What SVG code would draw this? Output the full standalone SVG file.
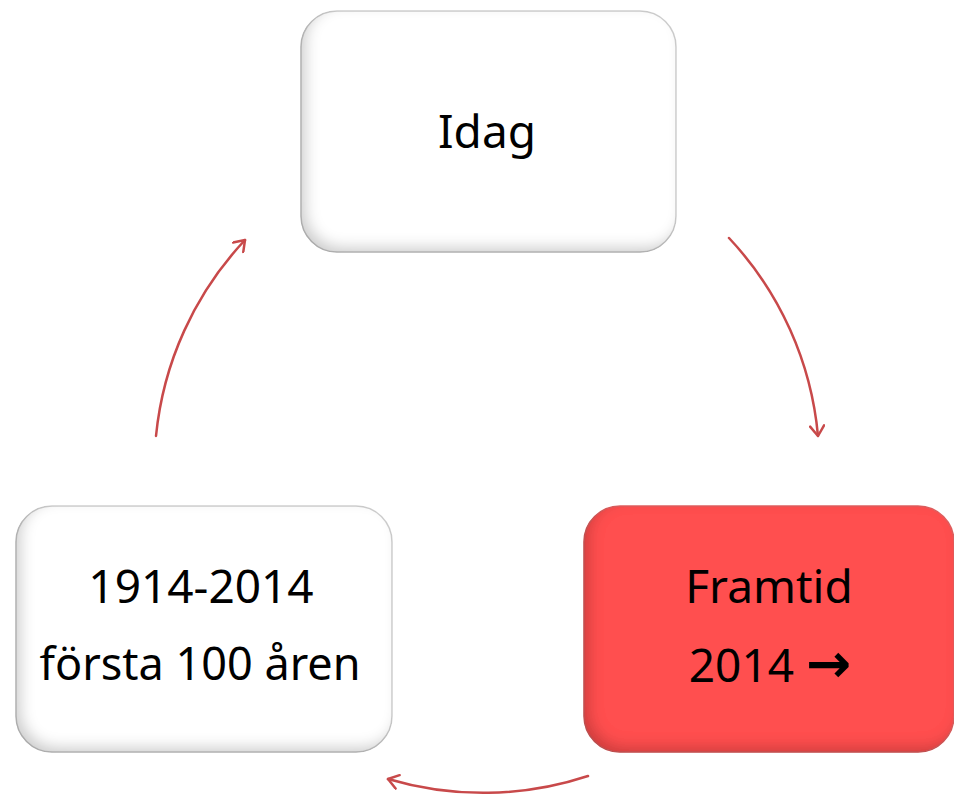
<svg xmlns="http://www.w3.org/2000/svg" width="954" height="798" viewBox="0 0 954 798">
<defs>
<style>
.box{stroke:#cfcfcf;stroke-width:1.5}
.white{fill:#ffffff}
.red{fill:#ff5050;stroke:#e06060}
.lbl{font-family:"Noto Sans","Open Sans",sans-serif;font-size:46px;fill:#000;text-anchor:middle}
.sym{font-family:"DejaVu Sans",sans-serif;font-weight:bold;font-size:54px}
.arc{fill:none;stroke:#c8494a;stroke-width:2.5;stroke-linecap:round;stroke-linejoin:round}
</style>
<filter id="bevel" x="-5%" y="-5%" width="110%" height="110%">
<feGaussianBlur in="SourceAlpha" stdDeviation="7" result="b"/>
<feOffset in="b" dx="6" dy="-6" result="bo"/>
<feComposite in="SourceAlpha" in2="bo" operator="arithmetic" k2="1" k3="-1" result="edge"/>
<feFlood flood-color="#000" flood-opacity="0.38"/>
<feComposite in2="edge" operator="in" result="shade"/>
<feMerge><feMergeNode in="SourceGraphic"/><feMergeNode in="shade"/></feMerge>
</filter>
<marker id="ah" markerWidth="16" markerHeight="16" refX="12" refY="8" orient="auto" markerUnits="userSpaceOnUse">
<path d="M2,1 L12,8 L2,15" fill="none" stroke="#c8494a" stroke-width="2.5" stroke-linecap="round" stroke-linejoin="round"/>
</marker>
</defs>
<g id="connectors">
<path class="arc" d="M729,238 A334,334 0 0 1 818,436" marker-end="url(#ah)"/>
<path class="arc" d="M588,776 A334,334 0 0 1 388,779" marker-end="url(#ah)"/>
<path class="arc" d="M156,436 A334,334 0 0 1 245,240" marker-end="url(#ah)"/>
</g>
<g id="node-idag">
<rect class="box white" x="301" y="11" width="375" height="241" rx="36" filter="url(#bevel)"/>
<text class="lbl" x="487" y="148">Idag</text>
</g>
<g id="node-framtid">
<rect class="box red" x="584" y="506" width="370" height="246" rx="36" filter="url(#bevel)"/>
<text class="lbl" x="769" y="603">Framtid</text>
<text class="lbl" x="770" y="682">2014 <tspan class="sym">→</tspan></text>
</g>
<g id="node-forsta">
<rect class="box white" x="16" y="506" width="376" height="246" rx="36" filter="url(#bevel)"/>
<text class="lbl" x="201" y="603">1914-2014</text>
<text class="lbl" x="200" y="680" style="font-size:45px">första 100 åren</text>
</g>
</svg>
